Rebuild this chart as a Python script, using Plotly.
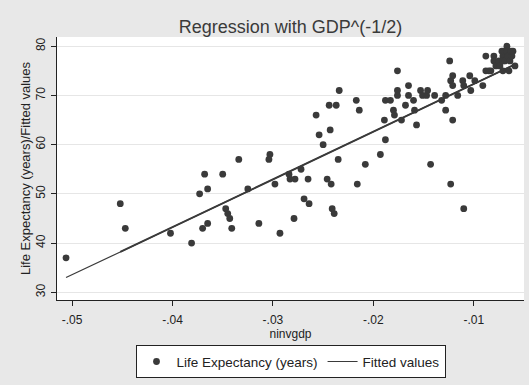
import plotly.graph_objects as go

# ninvgdp = -GDP^(-1/2)
ninvgdp = [
    -0.0506, -0.0452, -0.0447, -0.0402, -0.0381, -0.0373, -0.0370, -0.0368, -0.0365, -0.0365,
    -0.0350, -0.0347, -0.0345, -0.0343, -0.0341, -0.0334, -0.0325, -0.0314, -0.0303, -0.0304,
    -0.0298, -0.0293, -0.0284, -0.0283, -0.0278, -0.0279, -0.0272, -0.0269, -0.0265, -0.0264,
    -0.0257, -0.0254, -0.0250, -0.0246, -0.0244, -0.0243, -0.0242, -0.0241, -0.0239, -0.0237,
    -0.0235, -0.0234, -0.0217, -0.0216, -0.0214, -0.0208, -0.0193, -0.0189, -0.0188, -0.0188,
    -0.0183, -0.0180, -0.0179, -0.0176, -0.0176, -0.0176, -0.0172, -0.0168, -0.0165, -0.0165,
    -0.0160, -0.0159, -0.0157, -0.0153, -0.0151, -0.0147, -0.0146, -0.0143, -0.0139, -0.0132,
    -0.0128, -0.0128, -0.0124, -0.0123, -0.0123, -0.0121, -0.0121, -0.0121, -0.0116, -0.0111,
    -0.0110, -0.0110, -0.0104, -0.0103, -0.0099, -0.0091, -0.0088, -0.0088, -0.0085, -0.0083,
    -0.0080, -0.0080, -0.0078, -0.0075, -0.0074, -0.0072, -0.0071, -0.0071, -0.0071, -0.0070,
    -0.0069, -0.0067, -0.0067, -0.0066, -0.0065, -0.0064, -0.0063, -0.0062, -0.0061, -0.0059,
]
life_exp = [
    37, 48, 43, 42, 40, 50, 43, 54, 51, 44,
    54, 47, 46, 45, 43, 57, 51, 44, 58, 57,
    52, 42, 54, 53, 53, 45, 55, 49, 53, 48,
    66, 62, 60, 53, 68, 63, 52, 47, 46, 68,
    57, 71, 69, 52, 67, 56, 58, 65, 61, 69,
    69, 67, 66, 75, 71, 70, 65, 68, 72, 70,
    69, 67, 64, 71, 70, 70, 71, 56, 70, 69,
    67, 70, 77, 52, 73, 74, 72, 65, 70, 73,
    47, 72, 74, 71, 73, 72, 78, 75, 75, 75,
    78, 77, 76, 77, 76, 79, 75, 78, 77, 79,
    77, 80, 79, 78, 75, 77, 79, 78, 79, 76,
]

# Fitted values from the linear regression
fit_x = [-0.0506, -0.0452, -0.0059]
fit_y = [33.0, 38.2, 76.3]

x_tickvals = [-0.05, -0.04, -0.03, -0.02, -0.01]
x_ticktext = ["-.05", "-.04", "-.03", "-.02", "-.01"]
y_tickvals = [30, 40, 50, 60, 70, 80]

ink = "#3a3a3a"
font = "Liberation Sans, Arial, sans-serif"

fig = go.Figure()
fig.add_trace(go.Scatter(
    x=ninvgdp, y=life_exp, mode="markers",
    name="Life Expectancy (years)",
    marker=dict(color=ink, size=6.8, line=dict(width=0)),
))
fig.add_trace(go.Scatter(
    x=fit_x, y=fit_y, mode="lines", name="Fitted values",
    line=dict(color=ink, width=1.2),
))
# overlapping segments of the fitted polyline render heavier
fig.add_trace(go.Scatter(
    x=fit_x[1:], y=fit_y[1:], mode="lines", showlegend=False,
    line=dict(color=ink, width=1.9), hoverinfo="skip",
))

fig.update_layout(
    width=529, height=385,
    margin=dict(l=57, r=5, t=37, b=85),
    paper_bgcolor="#e8e8e8",
    plot_bgcolor="white",
    font=dict(family=font, color="#222", size=12),
    title=dict(
        text="Regression with GDP^(-1/2)",
        x=0.5, xref="paper", xanchor="center",
        y=1, yref="container", yanchor="top", pad=dict(t=20),
        font=dict(size=18, color="#3a3a3a"),
    ),
    showlegend=True,
    legend=dict(
        orientation="h", x=0.5, xanchor="center", y=-0.172, yanchor="top",
        bgcolor="white", bordercolor="#222", borderwidth=1,
        font=dict(size=13.5, color="#222"),
        itemwidth=30,
    ),
)
fig.update_xaxes(
    range=[-0.0515, -0.0050],
    tickvals=x_tickvals, ticktext=x_ticktext,
    ticks="outside", ticklen=5, tickcolor="#222",
    ticklabelstandoff=4,
    showline=True, linecolor="#222", linewidth=1,
    showgrid=False, zeroline=False,
    title=dict(text="ninvgdp", standoff=0, font=dict(size=12)),
)
fig.update_yaxes(
    range=[28.44, 81.87],
    tickvals=y_tickvals, tickangle=-90,
    ticks="outside", ticklen=5, tickcolor="#222",
    ticklabelstandoff=1,
    showline=True, linecolor="#222", linewidth=1,
    showgrid=True, gridcolor="#e6e6e6", gridwidth=1,
    zeroline=False,
    title=dict(text="Life Expectancy (years)/Fitted values", standoff=0, font=dict(size=13)),
)

fig.write_html("out.html")
